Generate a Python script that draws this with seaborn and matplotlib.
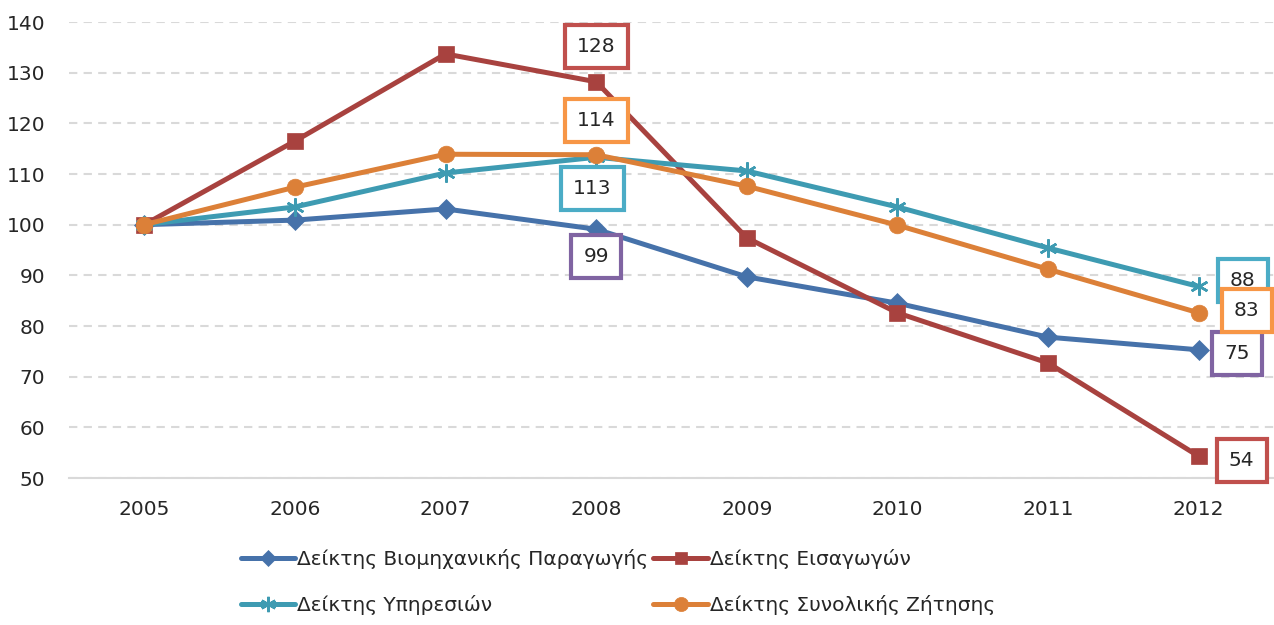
import pandas as pd
import matplotlib
matplotlib.use('Agg')
import matplotlib.pyplot as plt
import seaborn as sns

## data
years = ['2005', '2006', '2007', '2008', '2009', '2010', '2011', '2012']
industry = [100, 100.9, 103.1, 99.1, 89.7, 84.5, 77.8, 75.3]
imports = [100, 116.5, 133.7, 128.2, 97.4, 82.6, 72.7, 54.3]
services = [100, 103.5, 110.2, 113.3, 110.6, 103.5, 95.4, 87.8]
demand = [100, 107.4, 113.9, 113.8, 107.6, 99.9, 91.2, 82.6]

names = ['Δείκτης Βιομηχανικής Παραγωγής', 'Δείκτης Εισαγωγών',
         'Δείκτης Υπηρεσιών', 'Δείκτης Συνολικής Ζήτησης']

## labels shown on the chart (2008 and 2012)
label_2008 = [99, 128, 113, 114]
label_2012 = [75, 54, 88, 83]

line_colors = ['#4672AA', '#A8423F', '#3E9BB2', '#DC8038']
box_colors = ['#8064A2', '#C0504D', '#4BACC6', '#F79646']
markers = ['D', 's', (6, 2, 0), 'o']
msizes = [10, 11, 13, 12]

## long format for seaborn
series = [industry, imports, services, demand]
df = pd.concat([pd.DataFrame({'Year': years, 'Value': s, 'Series': n})
                for s, n in zip(series, names)], ignore_index=True)

sns.set_style('white')
plt.rcParams['font.family'] = ['DejaVu Sans']

fig = plt.figure(figsize=(12.74, 6.25), dpi=100)
ax = fig.add_axes([69 / 1274, 1 - 478 / 625, 1 - 69 / 1274, (478 - 22) / 625])

for i, n in enumerate(names):
    sns.lineplot(data=df[df['Series'] == n], x='Year', y='Value', ax=ax,
                 color=line_colors[i], marker=markers[i], markersize=msizes[i],
                 markeredgewidth=1.8 if i == 2 else 0.5, markeredgecolor=line_colors[i],
                 linewidth=3.6, label=n, sort=False)

ax.set_ylim(50, 140)
ax.set_xlim(-0.5, 7.5)
ax.set_yticks(range(50, 141, 10))
ax.grid(axis='y', color='#D9D9D9', linestyle=(0, (4, 3)), linewidth=1.5)
ax.grid(axis='x', visible=False)
for side in ['top', 'right', 'left']:
    ax.spines[side].set_visible(False)
ax.spines['bottom'].set_color('#D9D9D9')
ax.spines['bottom'].set_linewidth(1.5)
ax.tick_params(axis='both', length=0, labelsize=14.5)
ax.tick_params(axis='y', pad=17)
ax.tick_params(axis='x', pad=16)
ax.set_xlabel('')
ax.set_ylabel('')

## boxed data labels (offsets in pixels from the point)
offsets_2008 = [(0, -27), (0, 35), (-4, -31), (0, 34)]
offsets_2012 = [(38, -4), (43, -4), (44, 6), (48, 2)]
for i in range(4):
    for xi, val, lab, off in [(3, series[i][3], label_2008[i], offsets_2008[i]),
                              (7, series[i][7], label_2012[i], offsets_2012[i])]:
        ax.annotate(str(lab), xy=(xi, val), xytext=off, textcoords='offset pixels',
                    ha='center', va='center', fontsize=14.5,
                    bbox=dict(boxstyle='square,pad=0.6', fc='white',
                              ec=box_colors[i], lw=3), annotation_clip=False)

## legend: row 1 industry / imports, row 2 services / demand
handles, labels = ax.get_legend_handles_labels()
order = [0, 2, 1, 3]
ax.legend([handles[k] for k in order], [labels[k] for k in order],
          loc='upper left', bbox_to_anchor=(233 / 1274, 84 / 625),
          bbox_transform=fig.transFigure, ncol=2, frameon=False,
          fontsize=14.5, handlelength=2.7, handletextpad=0.1, markerscale=0.85,
          columnspacing=0.25, labelspacing=1.3, borderaxespad=0)

fig.savefig('out.png', dpi=100)
